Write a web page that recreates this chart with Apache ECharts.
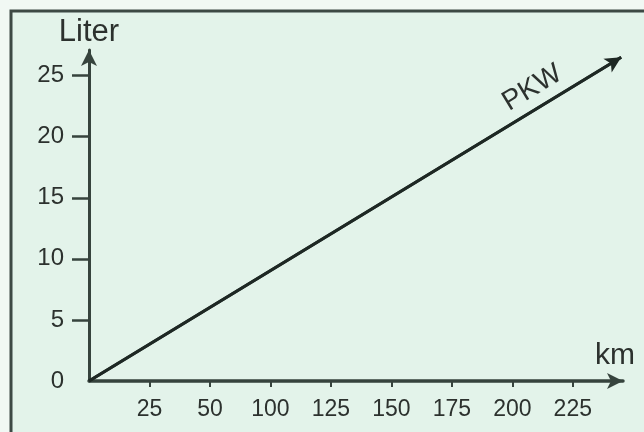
<!DOCTYPE html>
<html>
<head>
<meta charset="utf-8">
<script src="https://cdn.jsdelivr.net/npm/echarts@6/dist/echarts.min.js"></script>
<style>
html,body{margin:0;padding:0;background:#f1f8f4;}
#chart{width:644px;height:432px;}
</style>
</head>
<body>
<div id="chart"></div>
<script>
// Data
var xTickPositions = [1, 2, 3, 4, 5, 6, 7, 8];
var xTickLabels = ['25', '50', '100', '125', '150', '175', '200', '225'];
var yTickValues = [0, 5, 10, 15, 20, 25];
var seriesName = 'PKW';
var pkwX = [0, 8.8];
var pkwY = [0, 26.5];

var axisColor = '#36433d';
var textColor = '#2c312e';
var fontFam = '"Liberation Sans", Arial, sans-serif';

var pkwData = pkwX.map(function (x, i) { return [x, pkwY[i]]; });

var chart = echarts.init(document.getElementById('chart'));
chart.setOption({
  animation: false,
  backgroundColor: '#f1f8f4',
  graphic: [{
    type: 'rect',
    z: -10,
    shape: { x: 11, y: 11, width: 640, height: 430 },
    style: { fill: '#e3f3ea', stroke: '#3d4944', lineWidth: 3 }
  }],
  grid: { left: 89, right: 21, top: 50, bottom: 51 },
  xAxis: {
    type: 'value',
    min: 0,
    max: 8.83,
    name: 'km',
    nameLocation: 'end',
    nameGap: -8,
    nameTextStyle: { color: textColor, fontSize: 30, fontFamily: fontFam, align: 'center', verticalAlign: 'bottom', padding: [0, 0, 10, 0] },
    axisLine: { show: true, symbol: ['none', 'arrow'], symbolSize: [12, 16], lineStyle: { color: axisColor, width: 3.5 } },
    axisTick: { show: true, customValues: xTickPositions, length: 6, lineStyle: { color: axisColor, width: 2 } },
    axisLabel: {
      customValues: xTickPositions,
      margin: 17,
      color: textColor, fontSize: 23, fontFamily: fontFam,
      formatter: function (v) { return xTickLabels[Math.round(v) - 1]; }
    },
    splitLine: { show: false }
  },
  yAxis: {
    type: 'value',
    min: 0,
    max: 27.1,
    name: 'Liter',
    nameLocation: 'end',
    nameGap: 2,
    nameTextStyle: { color: textColor, fontSize: 31, fontFamily: fontFam, align: 'center' },
    axisLine: { show: true, symbol: ['none', 'arrow'], symbolSize: [12, 16], lineStyle: { color: axisColor, width: 3 } },
    axisTick: { show: true, customValues: yTickValues.slice(1), length: 17, lineStyle: { color: axisColor, width: 2.5 } },
    axisLabel: {
      customValues: yTickValues,
      margin: 25,
      color: textColor, fontSize: 24, fontFamily: fontFam
    },
    splitLine: { show: false }
  },
  series: [{
    name: seriesName,
    type: 'line',
    data: pkwData,
    showSymbol: false,
    lineStyle: { color: '#1e2824', width: 3 },
    markLine: {
      silent: true,
      symbol: ['none', 'arrow'],
      symbolSize: [12, 16],
      lineStyle: { color: '#1e2824', width: 3, type: 'solid' },
      label: {
        show: true,
        position: 'insideEndTop',
        formatter: seriesName,
        distance: [60, 6],
        color: textColor, fontSize: 28, fontFamily: fontFam
      },
      data: [[{ coord: pkwData[0] }, { coord: pkwData[pkwData.length - 1] }]]
    }
  }]
});
</script>
</body>
</html>
